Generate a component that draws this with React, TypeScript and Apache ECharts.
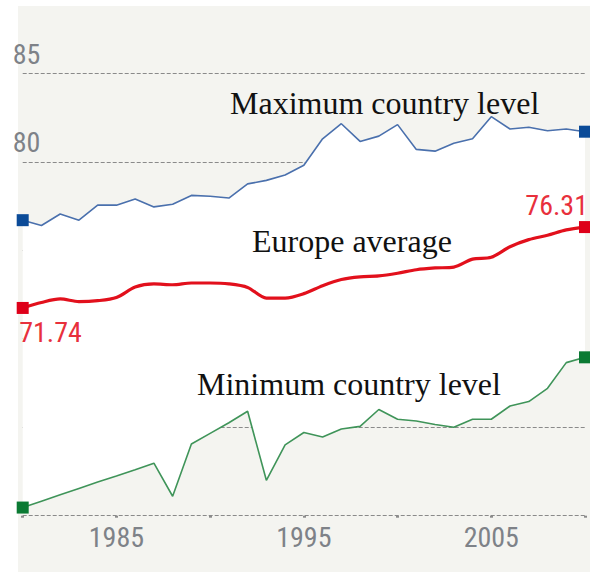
import React, { useEffect, useRef } from "react";
import * as echarts from "echarts";

const years = [
  1980, 1981, 1982, 1983, 1984, 1985, 1986, 1987, 1988, 1989, 1990, 1991, 1992, 1993, 1994, 1995,
  1996, 1997, 1998, 1999, 2000, 2001, 2002, 2003, 2004, 2005, 2006, 2007, 2008, 2009, 2010,
];
const maxLevel = [
  76.7, 76.4, 77.05, 76.7, 77.55, 77.55, 77.9, 77.45, 77.6, 78.1, 78.05, 77.95, 78.75, 78.95, 79.25,
  79.8, 81.3, 82.15, 81.15, 81.45, 82.1, 80.7, 80.6, 81.05, 81.3, 82.55, 81.85, 81.95, 81.75, 81.85,
  81.7,
];
const europeAvg = [
  71.74, 72.05, 72.25, 72.1, 72.15, 72.33, 72.92, 73.1, 73.05, 73.15, 73.15, 73.1, 72.9, 72.3, 72.3,
  72.55, 73.0, 73.35, 73.5, 73.55, 73.7, 73.9, 74.0, 74.05, 74.5, 74.6, 75.2, 75.6, 75.85, 76.15,
  76.31,
];
const minLevel = [
  60.46, 60.82, 61.18, 61.54, 61.9, 62.24, 62.6, 62.97, 61.1, 64.05, 64.65, 65.25, 65.9, 62.0, 64.0,
  64.7, 64.45, 64.9, 65.05, 66.0, 65.45, 65.35, 65.15, 65.0, 65.45, 65.45, 66.2, 66.45, 67.2, 68.65,
  68.95,
];
const xTickLabels = [1985, 1995, 2005];
const yTickLabels = [80, 85];

const labelFont = "'Liberation Sans Narrow', 'Arial Narrow', 'Roboto Condensed', Roboto, sans-serif";
const serifFont = "'Liberation Serif', 'Times New Roman', serif";

export default function App() {
  const ref = useRef<HTMLDivElement>(null);
  useEffect(() => {
    if (!ref.current) return;
    const chart = echarts.init(ref.current, undefined, { renderer: "svg" });
    const n = years.length;
    const endSymbol = (_v: any, p: any) =>
      p.dataIndex === 0 || p.dataIndex === n - 1 ? "rect" : "none";
    const annotation = (text: string, x: number, y: number) => ({
      type: "text",
      x,
      y,
      z: 100,
      zlevel: 0,
      style: { text, font: `32px ${serifFont}`, fill: "#111", verticalAlign: "bottom" },
    });

    chart.setOption({
      animation: false,
      backgroundColor: "transparent",
      grid: { left: 22.7, right: 5, top: 73.3, bottom: 56.3, containLabel: false },
      xAxis: {
        type: "category",
        data: years.map(String),
        boundaryGap: false,
        axisLine: { show: false },
        splitLine: { show: false },
        axisTick: {
          show: true,
          length: 2,
          interval: (i: number) => years[i] % 5 === 0,
          lineStyle: { color: "#8a8a8a", width: 3 },
        },
        axisLabel: {
          margin: 8,
          color: "#7e8288",
          fontSize: 28,
          fontFamily: labelFont,
          interval: (_i: number, v: string) => xTickLabels.includes(Number(v)),
        },
      },
      yAxis: {
        type: "value",
        min: 60,
        max: 85,
        interval: 5,
        axisLine: { show: false },
        axisTick: { show: false },
        splitLine: { show: true, lineStyle: { color: "#8a8a8a", type: [4, 2], width: 1.2 } },
        axisLabel: {
          inside: true,
          margin: -10,
          verticalAlign: "bottom",
          padding: [0, 0, 5, 0],
          color: "#7e8288",
          fontSize: 28,
          fontFamily: labelFont,
          formatter: (v: number) => (yTickLabels.includes(v) ? String(v) : ""),
        },
      },
      graphic: {
        z: 100,
        elements: [
          annotation("Maximum country level", 230, 119),
          annotation("Europe average", 252, 257),
          annotation("Minimum country level", 197, 400),
        ],
      },
      series: [
        {
          name: "bandBase",
          type: "line",
          stack: "band",
          data: minLevel,
          symbol: "none",
          lineStyle: { opacity: 0 },
          silent: true,
          z: 1,
        },
        {
          name: "band",
          type: "line",
          stack: "band",
          data: maxLevel.map((v, i) => v - minLevel[i]),
          symbol: "none",
          lineStyle: { opacity: 0 },
          areaStyle: { color: "#ffffff", opacity: 1 },
          silent: true,
          z: 1,
        },
        {
          name: "Maximum country level",
          type: "line",
          data: maxLevel,
          symbol: endSymbol,
          symbolSize: 12,
          showSymbol: true,
          showAllSymbol: true,
          lineStyle: { color: "#4a70ad", width: 1.6 },
          itemStyle: { color: "#0b4b98" },
          z: 3,
        },
        {
          name: "Minimum country level",
          type: "line",
          data: minLevel,
          symbol: endSymbol,
          symbolSize: 12,
          showSymbol: true,
          showAllSymbol: true,
          lineStyle: { color: "#3f9459", width: 1.6 },
          itemStyle: { color: "#0b7a33" },
          z: 3,
        },
        {
          name: "Europe average",
          type: "line",
          smooth: 0.3,
          data: europeAvg.map((v, i) => {
            if (i === 0)
              return {
                value: v,
                label: { show: true, position: "bottom", align: "left", offset: [-3.5, 0] },
              };
            if (i === n - 1)
              return {
                value: v,
                label: { show: true, position: "top", align: "right", offset: [3, 3] },
              };
            return v;
          }),
          symbol: endSymbol,
          symbolSize: 12,
          showSymbol: true,
          showAllSymbol: true,
          lineStyle: { color: "#e2101c", width: 3.2 },
          itemStyle: { color: "#de0019" },
          label: {
            show: false,
            color: "#e8303c",
            fontSize: 28,
            fontFamily: labelFont,
            distance: 5,
            formatter: (p: any) => Number(p.value).toFixed(2),
          },
          z: 4,
        },
      ],
    });
    return () => chart.dispose();
  }, []);

  return (
    <div style={{ position: "fixed", left: 0, top: 0, width: 590, height: 572, background: "#ffffff" }}>
      <div
        style={{ position: "absolute", left: 18, top: 6, width: 572, height: 566, background: "#f4f4f0" }}
      />
      <div ref={ref} style={{ position: "absolute", left: 0, top: 0, width: 590, height: 572 }} />
    </div>
  );
}
